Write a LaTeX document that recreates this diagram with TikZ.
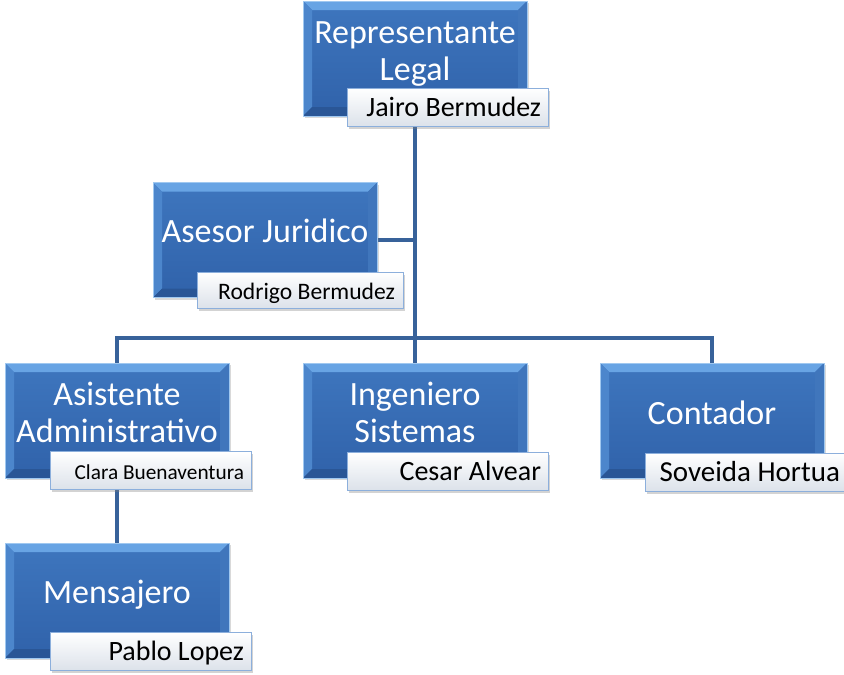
\documentclass[tikz,border=0pt]{standalone}
\usepackage{fontspec}
\setmainfont{Carlito}
\usetikzlibrary{shadows,calc}
\pgfdeclarelayer{background}
\pgfsetlayers{background,main}
\definecolor{boxtop}{RGB}{62,118,190}
\definecolor{boxbot}{RGB}{48,98,170}
\definecolor{bevtopc}{RGB}{104,164,228}
\definecolor{bevleftc}{RGB}{76,134,204}
\definecolor{bevbotc}{RGB}{42,86,150}
\definecolor{bevrightc}{RGB}{64,118,188}
\definecolor{boxedge}{RGB}{160,200,240}
\definecolor{conncol}{RGB}{56,98,154}
\definecolor{nameedge}{RGB}{140,175,220}
\definecolor{namebot}{RGB}{220,226,234}
\tikzset{
  rolebox/.style={rectangle, minimum width=224pt, minimum height=115pt, inner sep=0pt,
    top color=boxtop, bottom color=boxbot, draw=boxedge, line width=0.8pt,
    drop shadow={shadow xshift=2pt, shadow yshift=-2pt, opacity=0.3},
    path picture={
      \fill[bevtopc] (path picture bounding box.north west) -- (path picture bounding box.north east)
        -- ([shift={(-9pt,-9pt)}]path picture bounding box.north east) -- ([shift={(9pt,-9pt)}]path picture bounding box.north west) -- cycle;
      \fill[bevleftc] (path picture bounding box.north west) -- (path picture bounding box.south west)
        -- ([shift={(9pt,9pt)}]path picture bounding box.south west) -- ([shift={(9pt,-9pt)}]path picture bounding box.north west) -- cycle;
      \fill[bevbotc] (path picture bounding box.south west) -- (path picture bounding box.south east)
        -- ([shift={(-9pt,9pt)}]path picture bounding box.south east) -- ([shift={(9pt,9pt)}]path picture bounding box.south west) -- cycle;
      \fill[bevrightc] (path picture bounding box.north east) -- (path picture bounding box.south east)
        -- ([shift={(-9pt,9pt)}]path picture bounding box.south east) -- ([shift={(-9pt,-9pt)}]path picture bounding box.north east) -- cycle;
    }},
  roletext/.style={text=white, font=\fontsize{34}{37}\selectfont, align=center, anchor=base, inner sep=0pt},
  namebox/.style={rectangle, minimum width=201pt, minimum height=38pt, inner sep=0pt, text width=187pt,
    align=flush right, top color=white, bottom color=namebot, draw=nameedge, line width=0.8pt,
    drop shadow={shadow xshift=2pt, shadow yshift=-2.5pt, opacity=0.35},
    font=\fontsize{28}{30}\selectfont, text height=20pt, text depth=2pt},
  conn/.style={draw=conncol, line width=4.5pt}
}
\begin{document}
\begin{tikzpicture}[x=1pt, y=-1pt]
\useasboundingbox (0,0) rectangle (844,675);
% role boxes
\node[rolebox] (rep)  at (415,58.5) {};
\node[rolebox] (ases) at (265,240) {};
\node[rolebox] (asis) at (117,420.5) {};
\node[rolebox] (ing)  at (415,420.5) {};
\node[rolebox] (cont) at (712,420.5) {};
\node[rolebox] (mens) at (117,600.5) {};
% titles (base = baseline of last line)
\node[roletext] (repT)  at (415,80) {Representante\\Legal};
\node[roletext] (asesT) at (265,242) {Asesor Juridico};
\node[roletext] (asisT) at (117,442) {Asistente\\Administrativo};
\node[roletext] (ingT)  at (415,442) {Ingeniero\\Sistemas};
\node[roletext] (contT) at (712,424) {Contador};
\node[roletext] (mensT) at (117,603) {Mensajero};
% name boxes
\node[namebox] (repN)  at (447.5,107) {Jairo Bermudez};
\node[namebox, minimum width=206pt, text width=190pt, minimum height=36pt, font=\fontsize{23.6}{26}\selectfont] (asesN) at (300,290) {Rodrigo Bermudez};
\node[namebox, font=\fontsize{21.3}{24}\selectfont] (asisN) at (150.5,470.5) {Clara Buenaventura};
\node[namebox] (ingN)  at (447.5,471) {Cesar Alvear};
\node[namebox, minimum width=200pt, text width=190pt, font=\fontsize{29}{31}\selectfont] (contN) at (745,472) {Soveida Hortua};
\node[namebox] (mensN) at (150.5,651.5) {Pablo Lopez};
% connectors
\coordinate (busy) at (0,338);
\begin{pgfonlayer}{background}
\draw[conn] (rep.south) -- (rep.south |- busy);
\draw[conn] (ases.east) -- (ases.east -| rep.south);
\draw[conn] (asis.north) |- (busy -| cont.north) -- (cont.north);
\draw[conn] (ing.north) -- (ing.north |- busy);
\draw[conn] (asis.south) -- (mens.north);
\end{pgfonlayer}
\end{tikzpicture}
\end{document}
